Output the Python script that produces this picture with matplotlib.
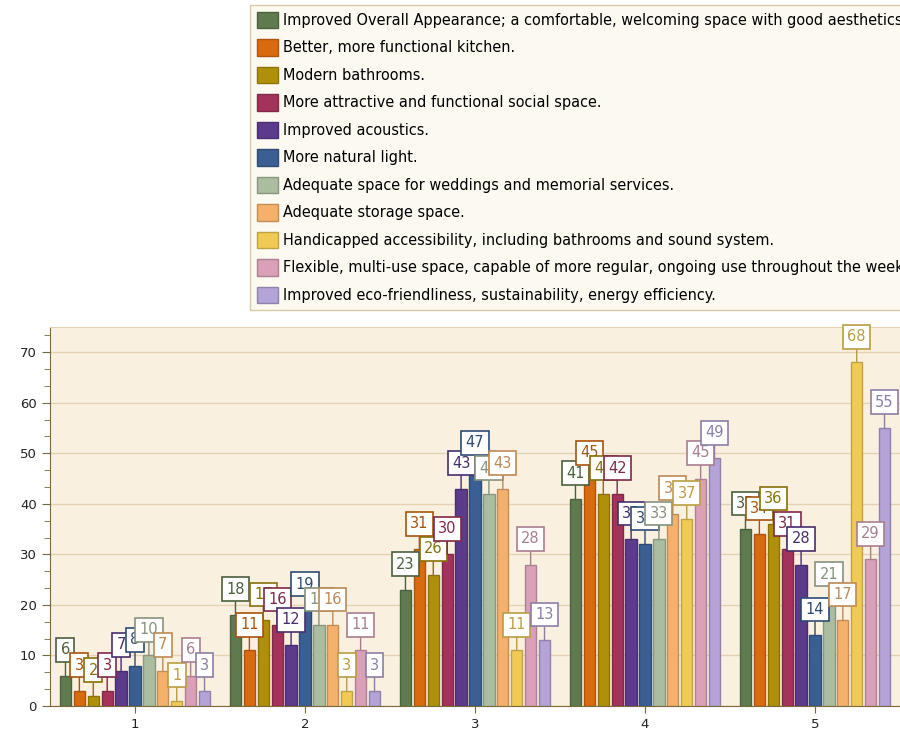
import matplotlib
matplotlib.use("Agg")
import matplotlib.pyplot as plt
import numpy as np
from matplotlib.ticker import MultipleLocator
from matplotlib.colors import to_rgb

categories = ["1", "2", "3", "4", "5"]

labels = [
    "Improved Overall Appearance; a comfortable, welcoming space with good aesthetics.",
    "Better, more functional kitchen.",
    "Modern bathrooms.",
    "More attractive and functional social space.",
    "Improved acoustics.",
    "More natural light.",
    "Adequate space for weddings and memorial services.",
    "Adequate storage space.",
    "Handicapped accessibility, including bathrooms and sound system.",
    "Flexible, multi-use space, capable of more regular, ongoing use throughout the week.",
    "Improved eco-friendliness, sustainability, energy efficiency.",
]

appearance = [6, 18, 23, 41, 35]
kitchen = [3, 11, 31, 45, 34]
bathrooms = [2, 17, 26, 42, 36]
social = [3, 16, 30, 42, 31]
acoustics = [7, 12, 43, 33, 28]
light = [8, 19, 47, 32, 14]
weddings = [10, 16, 42, 33, 21]
storage = [7, 16, 43, 38, 17]
handicapped = [1, 3, 11, 37, 68]
flexible = [6, 11, 28, 45, 29]
eco = [3, 3, 13, 49, 55]

series = [appearance, kitchen, bathrooms, social, acoustics, light,
          weddings, storage, handicapped, flexible, eco]

colors = ["#5F7A4E", "#D86A10", "#B0900A", "#A3335A", "#5C3A8C", "#3A5F92",
          "#AABDA0", "#F5B06C", "#EFCB55", "#D9A0B8", "#B3A3D6"]


def darker(c, f):
    r, g, b = to_rgb(c)
    return (r * f, g * f, b * f)


plt.rcParams["font.family"] = "DejaVu Sans"

fig = plt.figure(figsize=(9, 7.4), dpi=100)
ax = fig.add_axes([50 / 900, 34 / 740, 850 / 900, 379 / 740])
ax.set_facecolor("#FAF0E0")

x = np.arange(1, len(categories) + 1)
slot = 0.0818
width = 0.066
n = len(series)

for i, vals in enumerate(series):
    pos = x + (i - (n - 1) / 2) * slot
    ax.bar(pos, vals, width=width, color=colors[i],
           edgecolor=darker(colors[i], 0.8), linewidth=1, zorder=3,
           label=labels[i])

for i, vals in enumerate(series):
    pos = x + (i - (n - 1) / 2) * slot
    edge = darker(colors[i], 0.78)
    for px, v in zip(pos, vals):
        ax.annotate(str(v), xy=(px, v), xytext=(0, 18.5),
                    textcoords="offset points", ha="center", va="center",
                    fontsize=10.5, color=edge, zorder=10 + i,
                    bbox=dict(boxstyle="square,pad=0.3", fc="white",
                              ec=edge, lw=1.2),
                    arrowprops=dict(arrowstyle="-", color=edge, lw=1,
                                    shrinkA=0, shrinkB=0))

ax.set_xlim(0.5, 5.5)
ax.set_ylim(0, 75)
ax.set_xticks(x)
ax.set_xticklabels(categories)
ax.yaxis.set_major_locator(MultipleLocator(10))
ax.yaxis.set_minor_locator(MultipleLocator(10 / 3))
ax.grid(axis="y", color="#E3D3B3", lw=1, zorder=0)
ax.tick_params(axis="both", which="both", colors="#7A6A3A",
               labelcolor="#222222", labelsize=9.5)
ax.tick_params(axis="y", which="major", length=6)
ax.tick_params(axis="y", which="minor", length=4)
ax.tick_params(axis="x", length=5)
for s in ["left", "bottom"]:
    ax.spines[s].set_color("#7A6A3A")
ax.spines["top"].set_color("#E3D3B3")
ax.spines["right"].set_visible(False)

leg = fig.legend(loc="upper left", bbox_to_anchor=(250 / 900, 1 - 5 / 740),
                 borderaxespad=0, fontsize=10.45, frameon=True, fancybox=False,
                 handlelength=1.5, handleheight=1.4, handletextpad=0.35,
                 labelspacing=0.74, borderpad=0.45)
leg.get_frame().set_facecolor("#FCF9F1")
leg.get_frame().set_edgecolor("#D9C9A5")
leg.get_frame().set_alpha(1)

fig.savefig("out.png", dpi=100)
